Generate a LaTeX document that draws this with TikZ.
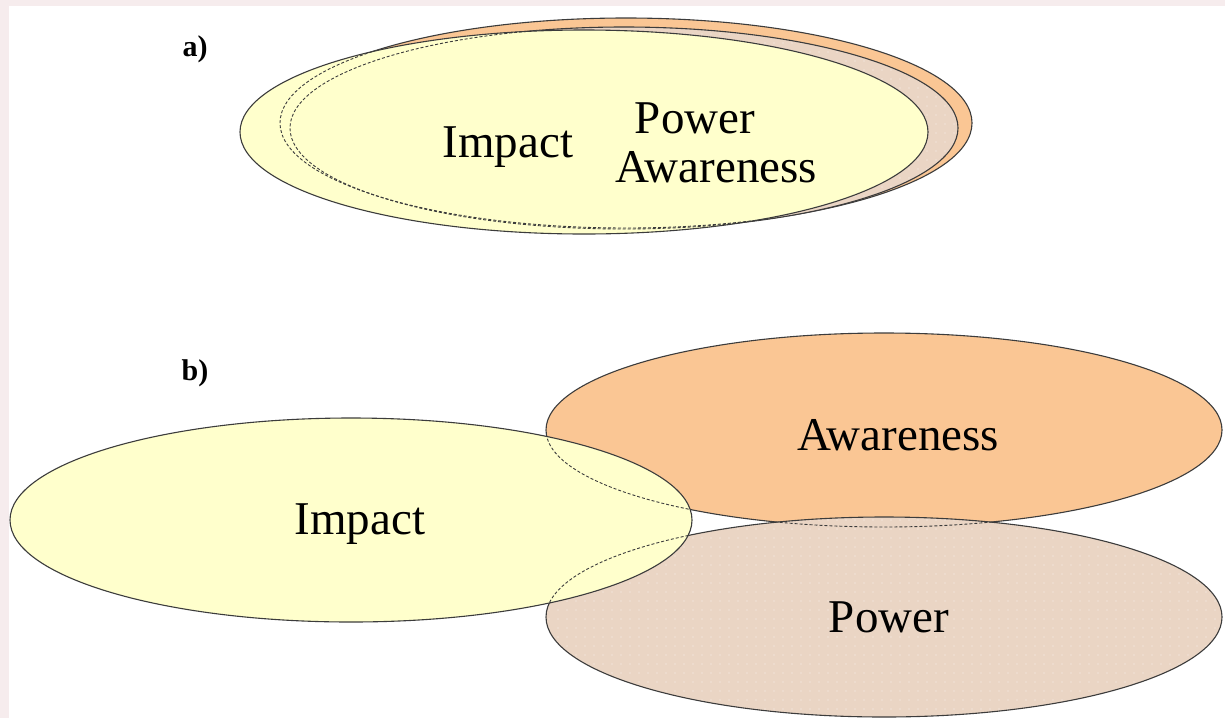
\documentclass[tikz,border=0pt]{standalone}
\usepackage{fontspec}
\setmainfont{Liberation Serif}
\usetikzlibrary{patterns.meta}
\definecolor{bgpink}{RGB}{246,236,237}
\definecolor{impactY}{RGB}{255,255,204}
\definecolor{awareO}{RGB}{250,198,148}
\definecolor{powerT}{RGB}{234,213,196}
\definecolor{edgegray}{RGB}{60,60,60}
\begin{document}
\begin{tikzpicture}[x=1pt,y=-1pt,
  outline/.style={draw=edgegray, line width=1.1pt},
  hidden/.style={draw=edgegray, line width=0.9pt, dash pattern=on 3pt off 2pt},
  yfill/.style={fill=impactY},
  ofill/.style={fill=awareO},
  pfill/.style={fill=powerT, postaction={pattern={Dots[distance=9pt, radius=0.6pt]}, pattern color=white!70!powerT}},
  lbl/.style={font=\fontsize{47}{50}\selectfont, anchor=base, inner sep=0pt},
  tag/.style={font=\fontsize{30}{32}\selectfont\bfseries, anchor=base, inner sep=0pt}]
\fill[bgpink] (0,0) rectangle (1225,718);
\fill[white] (9,6) rectangle (1225,718);
\useasboundingbox (0,0) rectangle (1225,718);

% ---------- a) ----------
\coordinate (aA) at (626,123);
\coordinate (aP) at (624,128);
\coordinate (aI) at (584,132);
\path[ofill, outline] (aA) ellipse [x radius=346, y radius=105];
\path[pfill] (aP) ellipse [x radius=334, y radius=101];
\draw[outline] (aP) ellipse [x radius=334, y radius=101];
\path[yfill] (aI) ellipse [x radius=344, y radius=102];
\begin{scope}
  \clip (aI) ellipse [x radius=344, y radius=102];
  \draw[hidden] (aA) ellipse [x radius=346, y radius=105];
  \draw[hidden] (aP) ellipse [x radius=334, y radius=101];
\end{scope}
\draw[outline] (aI) ellipse [x radius=344, y radius=102];

\node[tag] (taga) at (195,56) {a)};
\node[lbl] (aimpact) at (508,157) {Impact};
\node[lbl] (apower) at (695,133) {Power};
\node[lbl] (aaware) at (716,182) {Awareness};

% ---------- b) ----------
\coordinate (bA) at (884,430);
\coordinate (bP) at (884,617);
\coordinate (bI) at (351,520);
\path[ofill] (bA) ellipse [x radius=338, y radius=97];
\draw[outline] (bA) ellipse [x radius=338, y radius=97];
\path[pfill] (bP) ellipse [x radius=338, y radius=100];
\begin{scope}
  \clip (bP) ellipse [x radius=338, y radius=100];
  \draw[hidden] (bA) ellipse [x radius=338, y radius=97];
\end{scope}
\draw[outline] (bP) ellipse [x radius=338, y radius=100];
\path[yfill] (bI) ellipse [x radius=341, y radius=102];
\begin{scope}
  \clip (bI) ellipse [x radius=341, y radius=102];
  \draw[hidden] (bA) ellipse [x radius=338, y radius=97];
  \draw[hidden] (bP) ellipse [x radius=338, y radius=100];
\end{scope}
\draw[outline] (bI) ellipse [x radius=341, y radius=102];

\node[tag] (tagb) at (195,380) {b)};
\node[lbl] (bimpact) at (360,534) {Impact};
\node[lbl] (baware) at (898,450) {Awareness};
\node[lbl] (bpower) at (889,632) {Power};
\end{tikzpicture}
\end{document}
